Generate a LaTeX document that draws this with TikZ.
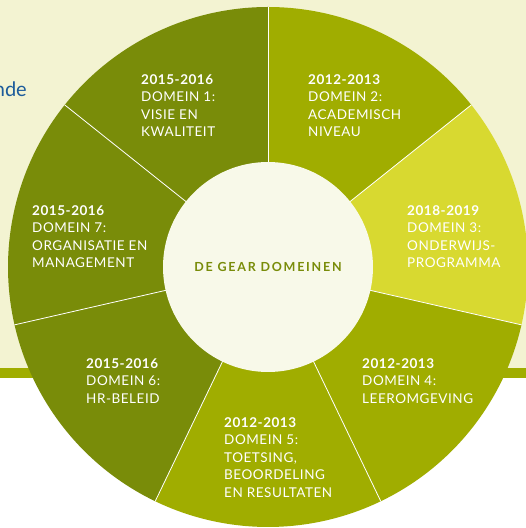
\documentclass[tikz,border=0pt]{standalone}
\usepackage{fontspec}
\setmainfont{Lato}
\usetikzlibrary{positioning}

\definecolor{bgcream}{HTML}{F3F3D2}
\definecolor{hubcream}{HTML}{F8F9E9}
\definecolor{darkolive}{HTML}{798C09}
\definecolor{midolive}{HTML}{A0AD00}
\definecolor{lime}{HTML}{D8D930}
\definecolor{inkblue}{HTML}{1D5C9B}

\begin{document}
\begin{tikzpicture}[x=1pt, y=1pt,
  domainbox/.style={anchor=north west, inner sep=0pt, align=left, text=white,
                 font=\fontsize{13.5}{17.6}\selectfont\addfontfeature{LetterSpace=4}},
  hub/.style={circle, fill=hubcream, inner sep=0pt, minimum size=210pt,
              text=darkolive, font=\fontsize{12.5}{14}\selectfont\bfseries\addfontfeature{LetterSpace=14}},
  divider/.style={white, line width=0.8pt}]

\useasboundingbox (0,0) rectangle (526,528);
\clip (0,0) rectangle (526,528);

% background
\fill[white] (0,0) rectangle (526,528);
\fill[bgcream] (0,160) rectangle (526,528);
\fill[midolive] (0,150) rectangle (526,160);

\node[anchor=base east, inner sep=0pt, text=inkblue,
      font=\fontsize{20}{24}\selectfont](nde) at (27,431) {nde};

\coordinate (c) at (268,261);

% segments
\fill[midolive]  (c) -- ++(90:260pt) arc (90:38.57:260pt) -- cycle;
\fill[lime]      (c) -- ++(38.57:260pt) arc (38.57:-12.86:260pt) -- cycle;
\fill[midolive]  (c) -- ++(-12.86:260pt) arc (-12.86:-64.29:260pt) -- cycle;
\fill[midolive]  (c) -- ++(-64.29:260pt) arc (-64.29:-115.71:260pt) -- cycle;
\fill[darkolive] (c) -- ++(-115.71:260pt) arc (-115.71:-167.14:260pt) -- cycle;
\fill[darkolive] (c) -- ++(-167.14:260pt) arc (-167.14:-218.57:260pt) -- cycle;
\fill[darkolive] (c) -- ++(141.43:260pt) arc (141.43:90:260pt) -- cycle;

\draw[divider] (c) -- ++(90:260pt);
\draw[divider] (c) -- ++(38.57:260pt);
\draw[divider] (c) -- ++(-12.86:260pt);
\draw[divider] (c) -- ++(-64.29:260pt);
\draw[divider] (c) -- ++(-115.71:260pt);
\draw[divider] (c) -- ++(-167.14:260pt);
\draw[divider] (c) -- ++(141.43:260pt);

\node[hub](gear) at (c) {DE GEAR DOMEINEN};

\node[domainbox](d1) at (141,454) {\textbf{2015-2016}\\DOMEIN 1:\\VISIE EN\\KWALITEIT};
\node[domainbox](d2) at (308,454) {\textbf{2012-2013}\\DOMEIN 2:\\ACADEMISCH\\NIVEAU};
\node[domainbox](d3) at (407,323) {\textbf{2018-2019}\\DOMEIN 3:\\ONDERWIJS-\\PROGRAMMA};
\node[domainbox](d4) at (362,170) {\textbf{2012-2013}\\DOMEIN 4:\\LEEROMGEVING};
\node[domainbox](d5) at (224,111) {\textbf{2012-2013}\\DOMEIN 5:\\TOETSING,\\BEOORDELING\\EN RESULTATEN};
\node[domainbox](d6) at (86,170) {\textbf{2015-2016}\\DOMEIN 6:\\HR-BELEID};
\node[domainbox](d7) at (32,323) {\textbf{2015-2016}\\DOMEIN 7:\\ORGANISATIE EN\\MANAGEMENT};

\end{tikzpicture}
\end{document}
